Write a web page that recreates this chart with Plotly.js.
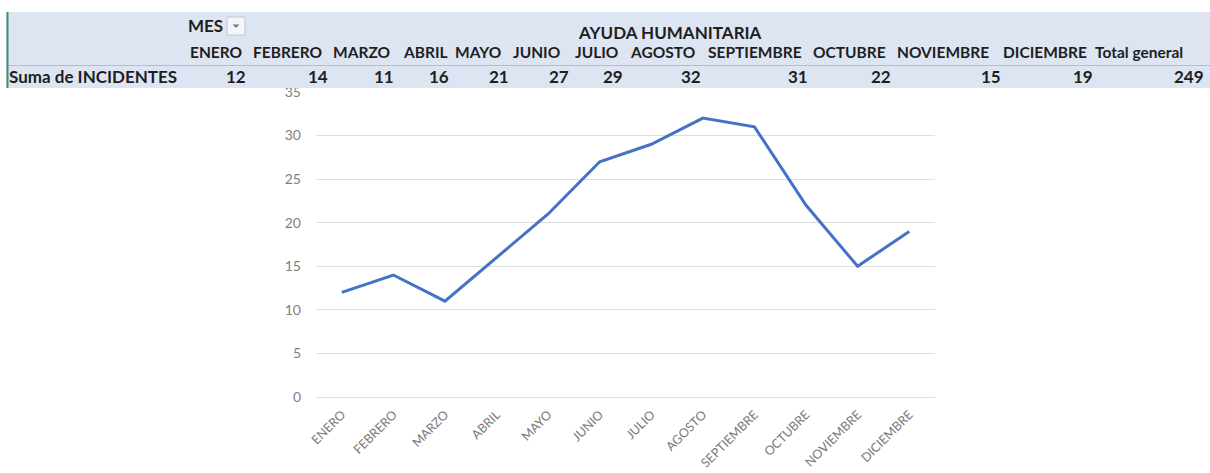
<!DOCTYPE html>
<html>
<head>
<meta charset="utf-8">
<script src="https://cdn.plot.ly/plotly-3.0.1.min.js"></script>
<style>html,body{margin:0;padding:0;background:#fff;}#chart{width:1210px;height:473px;}</style>
</head>
<body>
<div id="chart"></div>
<script>
// ---- data ----
const months = ["ENERO","FEBRERO","MARZO","ABRIL","MAYO","JUNIO","JULIO","AGOSTO","SEPTIEMBRE","OCTUBRE","NOVIEMBRE","DICIEMBRE"];
const incidents = [12, 14, 11, 16, 21, 27, 29, 32, 31, 22, 15, 19];
const tableTitle = "AYUDA HUMANITARIA";
const fieldLabel = "MES";
const rowLabel = "Suma de INCIDENTES";
const totalLabel = "Total general";

// ---- layout constants (pixels) ----
const FW = 1210, FH = 473;
const ML = 316, MR = 275, MT = 92, MB = 76;
const PW = FW - ML - MR, PH = FH - MT - MB;
const px = x => (x - ML) / PW;
const py = y => 1 - (y - MT) / PH;

const headLeft = [190, 253, 333, 403, 455, 513, 575, 630, 708, 813, 897, 1003, 1095];
const valRight = [246, 328, 394, 449, 509, 569, 623, 701, 808, 891, 1001, 1093, 1204];

const FONT = 'Lato, "Open Sans", sans-serif';
const TXT = '#1e1e1e';
const hfont = {family: FONT, size: 17, color: TXT, weight: 700};
const mfont = {family: FONT, size: 15.5, color: TXT, weight: 700};

const total = incidents.reduce((a, b) => a + b, 0);

const shapes = [
  {type:'rect', xref:'paper', yref:'paper', layer:'above',
   x0:px(6), x1:px(1212), y0:py(12), y1:py(88), fillcolor:'#dde5f2', line:{width:0}},
  {type:'line', xref:'paper', yref:'paper', layer:'above',
   x0:px(7), x1:px(1212), y0:py(65.5), y1:py(65.5), line:{color:'#a9bfe0', width:1}},
  {type:'line', xref:'paper', yref:'paper', layer:'above',
   x0:px(7.5), x1:px(7.5), y0:py(12), y1:py(88), line:{color:'#3f8f70', width:2}},
  {type:'rect', xref:'paper', yref:'paper', layer:'above',
   x0:px(227), x1:px(245), y0:py(17), y1:py(35), fillcolor:'#f4f6fa', line:{color:'#c4c8d0', width:1}},
  {type:'path', xref:'paper', yref:'paper', layer:'above',
   path:`M ${px(232.5)} ${py(24.5)} L ${px(239.5)} ${py(24.5)} L ${px(236)} ${py(28)} Z`,
   fillcolor:'#7a7a7a', line:{width:0}}
];

const annotations = [];
function addText(text, x, y, anchor, font) {
  annotations.push({text, x:px(x), y:py(y), xref:'paper', yref:'paper',
    xanchor:anchor, yanchor:'middle', showarrow:false, borderpad:0, borderwidth:0, font});
}
addText(fieldLabel, 188, 25, 'left', hfont);
addText(tableTitle, 578, 33, 'left', hfont);
months.forEach((m, i) => addText(m, headLeft[i], 52, 'left', mfont));
addText(totalLabel, headLeft[12], 52, 'left', mfont);
addText(rowLabel, 9, 77, 'left', hfont);
incidents.forEach((v, i) => addText(String(v), valRight[i], 77, 'right', hfont));
addText(String(total), valRight[12], 77, 'right', hfont);

const trace = {
  type: 'scatter', mode: 'lines',
  x: months, y: incidents,
  line: {color: '#4472c4', width: 3},
  hoverinfo: 'skip'
};

const layout = {
  width: FW, height: FH,
  margin: {l: ML, r: MR, t: MT, b: MB, pad: 0},
  paper_bgcolor: '#ffffff', plot_bgcolor: '#ffffff',
  showlegend: false,
  font: {family: FONT, color: '#7f7f7f', size: 13},
  xaxis: {
    type: 'category', range: [-0.5, 11.5], fixedrange: true,
    tickangle: -45, tickfont: {family: FONT, size: 12.5, color: '#7a7a7a'},
    showgrid: false, zeroline: false, showline: false, ticks: '',
    ticklabelstandoff: 7
  },
  yaxis: {
    range: [0, 35], dtick: 5, tick0: 0, fixedrange: true,
    showgrid: true, gridcolor: '#dedede', gridwidth: 1,
    zeroline: true, zerolinecolor: '#dedede', zerolinewidth: 1,
    showline: false, ticks: '',
    tickfont: {family: FONT, size: 14, color: '#7f7f7f'},
    ticklabelstandoff: 14
  },
  shapes, annotations
};

Plotly.newPlot('chart', [trace], layout, {displayModeBar: false, staticPlot: true});
</script>
</body>
</html>
